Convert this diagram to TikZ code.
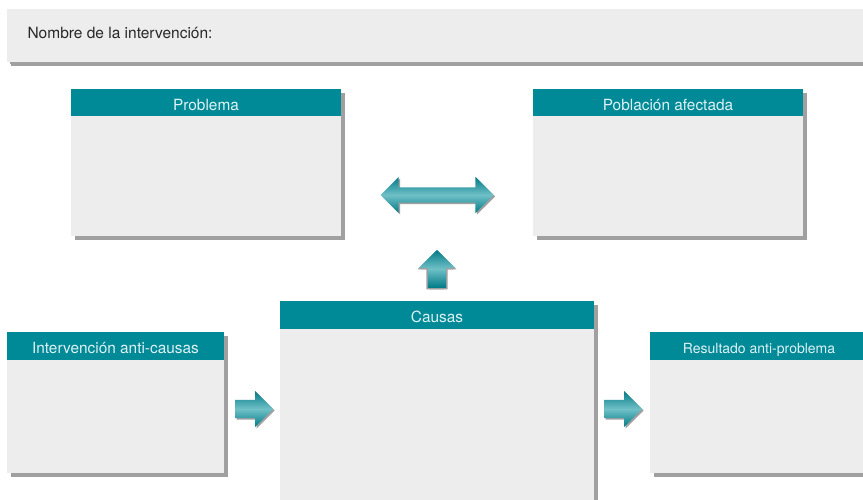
\documentclass[tikz,border=0pt]{standalone}
\usepackage{fontspec}
\setmainfont{TeX Gyre Heros}
\usepackage{tikz}
\usepackage{xcolor}
\usetikzlibrary{shapes.arrows,shadows,positioning}
\definecolor{tealhead}{RGB}{0,137,150}
\definecolor{tealdark}{RGB}{0,122,134}
\definecolor{teallight}{RGB}{112,192,199}
\definecolor{panelgray}{RGB}{236,237,236}
\definecolor{shadowgray}{RGB}{160,160,160}
\definecolor{headtext}{RGB}{222,242,244}
\definecolor{nametext}{RGB}{40,40,40}

\begin{document}
\begin{tikzpicture}[x=1pt,y=-1pt,
	panel/.style={fill=panelgray, inner sep=0pt, outer sep=0pt, anchor=north west,
		drop shadow={shadow xshift=3.5pt, shadow yshift=-4pt, fill=shadowgray, opacity=1}},
	headbar/.style={fill=tealhead, text=headtext, inner sep=0pt, outer sep=0pt, anchor=north,
		minimum height=27.5pt, text height=15pt, text depth=0pt, font=\fontsize{15.4}{18}\selectfont},
	fwdarrow/.style={single arrow, inner xsep=0pt, inner ysep=9pt, minimum width=0pt,
		minimum height=38pt, single arrow head extend=9pt, single arrow head indent=0pt,
		top color=tealdark, bottom color=tealdark, middle color=teallight,
		drop shadow={shadow xshift=1.5pt, shadow yshift=-1.5pt, fill=shadowgray, opacity=1}},
	dblarrow/.style={double arrow, inner xsep=0pt, inner ysep=7.5pt, minimum width=0pt,
		minimum height=113pt, double arrow head extend=10.5pt, double arrow head indent=0pt,
		top color=tealdark, bottom color=tealdark, middle color=teallight,
		drop shadow={shadow xshift=1.5pt, shadow yshift=-1.5pt, fill=shadowgray, opacity=1}}]
	\useasboundingbox [fill=white] (0,0) rectangle (863,500);

	\node [panel, minimum width=880pt, minimum height=53pt,
		drop shadow={shadow xshift=3pt, shadow yshift=-2pt, fill=shadowgray, opacity=1}] (name) at (7,9) {};
	\node [anchor=base west, text=nametext, font=\fontsize{15.5}{18}\selectfont] (name-label) at (24,39) {Nombre de la intervención:};

	\node [panel, minimum width=270pt, minimum height=147pt] (prob) at (71,89) {};
	\node [headbar, minimum width=270pt] (prob-head) at (prob.north) {Problema};

	\node [panel, minimum width=270pt, minimum height=147pt] (pob) at (533,89) {};
	\node [headbar, minimum width=270pt] (pob-head) at (pob.north) {Población afectada};

	\node [panel, minimum width=314pt, minimum height=210pt] (caus) at (280,301) {};
	\node [headbar, minimum width=314pt] (caus-head) at (caus.north) {Causas};

	\node [panel, minimum width=217pt, minimum height=141pt] (interv) at (7,332) {};
	\node [headbar, minimum width=217pt] (interv-head) at (interv.north) {Intervención anti-causas};

	\node [panel, minimum width=218pt, minimum height=141pt] (result) at (650,332) {};
	\node [headbar, minimum width=218pt, font=\fontsize{14}{17}\selectfont] (result-head) at (result.north) {Resultado anti-problema};

	\node [dblarrow] (link) at (437,195) {};
	\node [fwdarrow, rotate=90, anchor=west,
		drop shadow={shadow xshift=-1.5pt, shadow yshift=-1.5pt, fill=shadowgray, opacity=1}] (rise) at ([yshift=13pt]caus.north) {};
	\node [fwdarrow, right=11pt of interv, yshift=-6.5pt] (act1) {};
	\node [fwdarrow, anchor=west, xshift=10pt] (act2) at (act1 -| caus.east) {};
\end{tikzpicture}
\end{document}
